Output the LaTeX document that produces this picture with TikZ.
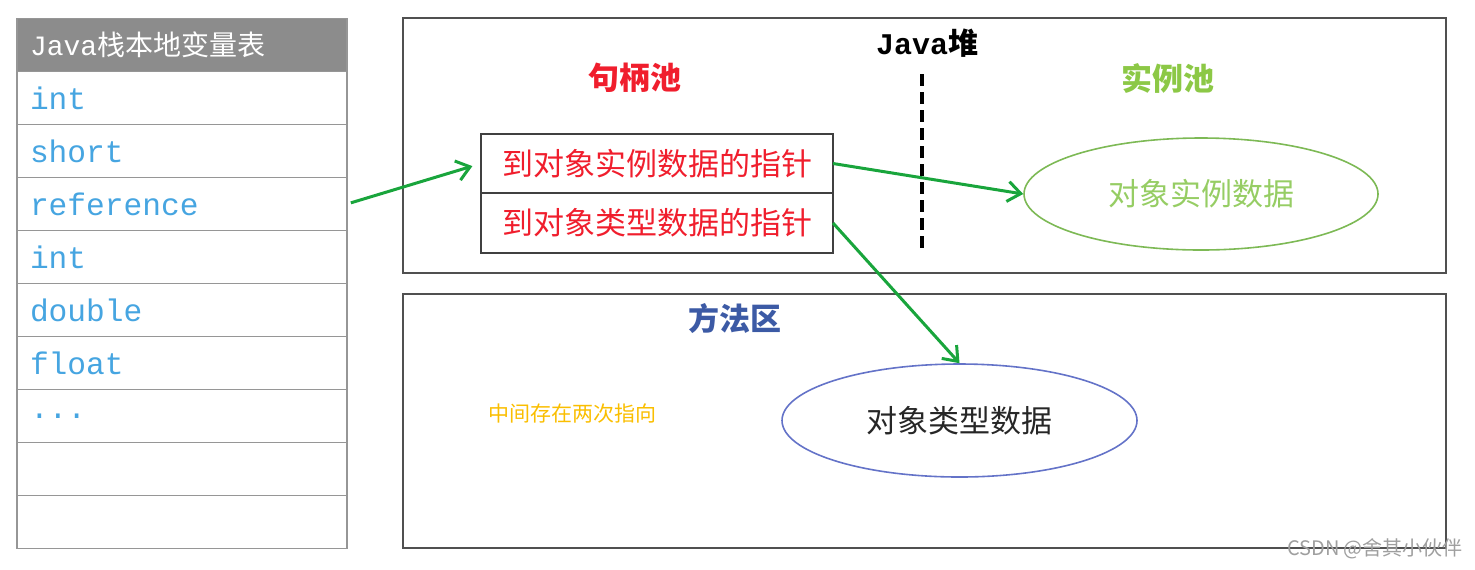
\documentclass[tikz,border=0pt]{standalone}
\usepackage{fontspec}
\setmonofont{Liberation Mono}
\newfontfamily\cjk{Noto Sans CJK SC}
\usetikzlibrary{shapes.geometric, arrows.meta, positioning, calc}
\definecolor{StackGray}{RGB}{140, 140, 140}
\definecolor{StackLine}{RGB}{150, 150, 150}
\definecolor{SlotBlue}{RGB}{70, 165, 225}
\definecolor{HandleRed}{RGB}{240, 30, 45}
\definecolor{PoolGreen}{RGB}{140, 200, 70}
\definecolor{InstGreen}{RGB}{150, 205, 100}
\definecolor{InstEdge}{RGB}{125, 185, 85}
\definecolor{MethodBlue}{RGB}{60, 90, 165}
\definecolor{TypeEdge}{RGB}{100, 115, 200}
\definecolor{PtrGreen}{RGB}{25, 165, 60}
\definecolor{NoteYellow}{RGB}{250, 190, 0}
\definecolor{AreaLine}{RGB}{80, 80, 80}

\begin{document}
\begin{tikzpicture}[
        x=0.5pt, y=-0.5pt,
        headbox/.style={rectangle, draw=StackLine, fill=StackGray, line width=0.7pt, minimum width=165pt, minimum height=26.5pt, text width=152pt, inner xsep=6.5pt, inner ysep=0pt, outer sep=0pt, align=left, text=white, font=\cjk\fontsize{14pt}{16pt}\selectfont},
        slotbox/.style={rectangle, draw=StackLine, fill=white, line width=0.7pt, minimum width=165pt, minimum height=26.5pt, text width=152pt, inner xsep=6.5pt, inner ysep=0pt, outer sep=0pt, align=left, text=SlotBlue, font=\ttfamily\fontsize{15.6pt}{17pt}\selectfont},
        areabox/.style={rectangle, draw=AreaLine, line width=1pt, minimum width=521.5pt, inner sep=0pt, outer sep=0pt},
        pooltitle/.style={font=\cjk\bfseries\fontsize{15.5pt}{18pt}\selectfont},
        ptrbox/.style={rectangle, draw=black!75, line width=1pt, minimum width=176pt, minimum height=29.75pt, inner sep=0pt, outer sep=0pt, text=HandleRed, font=\cjk\fontsize{15.5pt}{18pt}\selectfont},
        databox/.style={ellipse, line width=0.8pt, minimum width=177pt, minimum height=56pt, inner sep=0pt, font=\cjk\fontsize{15.5pt}{18pt}\selectfont},
        divider/.style={draw=black, line width=2pt, dash pattern=on 6pt off 3pt},
        ptr/.style={-{Straight Barb[length=6.5pt, width=10pt]}, draw=PtrGreen, line width=1.5pt}
      ]
        \useasboundingbox (0,0) rectangle (1475,569);

        % Java stack local variable table
        \node[headbox] (head) at (182,45) {{\ttfamily Java}栈本地变量表};
        \node[slotbox, below=0pt of head] (sint) {int};
        \node[slotbox, below=0pt of sint] (sshort) {short};
        \node[slotbox, below=0pt of sshort] (sref) {reference};
        \node[slotbox, below=0pt of sref] (sint2) {int};
        \node[slotbox, below=0pt of sint2] (sdouble) {double};
        \node[slotbox, below=0pt of sdouble] (sfloat) {float};
        \node[slotbox, below=0pt of sfloat] (sdots) {...};
        \node[slotbox, below=0pt of sdots] (sempty) {};
        \node[slotbox, below=0pt of sempty] (sempty2) {};

        % Java heap
        \node[areabox, minimum height=127.5pt] (heap) at (924.5,145.5) {};
        \node[font=\bfseries\fontsize{15pt}{18pt}\selectfont] (heaptitle) at (927,43) {{\ttfamily Java}{\cjk 堆}};
        \node[pooltitle, text=HandleRed] (handletitle) at (635,78) {句柄池};
        \node[pooltitle, text=PoolGreen] (insttitle) at (1168,78) {实例池};

        \node[ptrbox] (ptrinst) at (657,163.5) {到对象实例数据的指针};
        \node[ptrbox, below=0pt of ptrinst] (ptrtype) {到对象类型数据的指针};

        \coordinate (divtop) at (922,74);
        \coordinate (divbot) at (922,253);
        \draw[divider] (divtop) -- (divbot);

        \node[databox, draw=InstEdge, text=InstGreen] (instdata) at (1201,194) {对象实例数据};

        % Method area
        \node[areabox, minimum height=127pt] (method) at (924.5,421) {};
        \node[pooltitle, text=MethodBlue] (methodtitle) at (735,319) {方法区};
        \node[font=\cjk\fontsize{10.5pt}{12pt}\selectfont, text=NoteYellow] (note) at (572,414) {中间存在两次指向};
        \node[databox, draw=TypeEdge, text=black!85, minimum width=177.5pt, minimum height=56.5pt] (typedata) at (959.5,420.5) {对象类型数据};

        % Connections
        \draw[ptr, shorten <=2pt, shorten >=4.5pt] (sref.east) -- (ptrinst.west);
        \draw[ptr] (ptrinst.east) -- (instdata.west);
        \draw[ptr] (ptrtype.east) -- (typedata.north);

        \node[font=\cjk\fontsize{10pt}{12pt}\selectfont, text=gray!75] (mark) at (1375,549) {CSDN @舍其小伙伴};
      \end{tikzpicture}
\end{document}
